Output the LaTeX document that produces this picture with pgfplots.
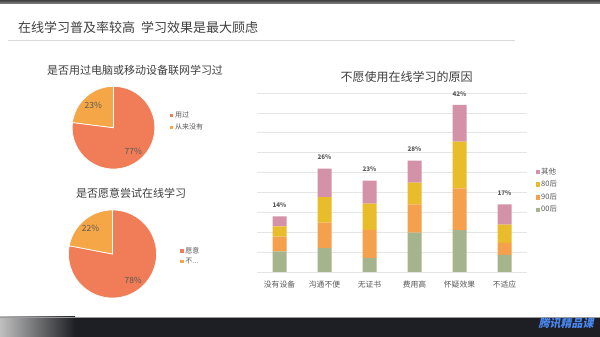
\documentclass[border=0pt]{standalone}
\usepackage{pgfplots}
\pgfplotsset{compat=1.18}
\usepackage{pgfplotstable}
\usepackage{fontspec}
\setmainfont{Noto Sans CJK SC}
\definecolor{coral}{HTML}{F07D57}
\definecolor{pieor}{HTML}{F5A646}
\definecolor{bpink}{HTML}{D492A8}
\definecolor{byel}{HTML}{E8BC2A}
\definecolor{bor}{HTML}{F5A04C}
\definecolor{bgreen}{HTML}{A6B48D}
\definecolor{txt}{HTML}{595959}
\definecolor{ttl}{HTML}{404040}
\definecolor{bardark}{HTML}{1E1F24}
\definecolor{logo}{HTML}{4A86F0}

\pgfplotstableread{
x g00 g90 g80 oth total
0 5.2 3.7 2.6 2.5 14
1 6.0 6.4 6.4 7.2 26
2 3.5 7.1 6.6 5.8 23
3 9.9 7.1 5.5 5.5 28
4 10.5 10.5 11.8 9.2 42
5 4.3 3.0 4.6 5.1 17
}\reasons

\pgfplotsset{sqleg/.style={legend image code/.code={\fill[##1] (0pt,-2.3pt) rectangle (4.6pt,2.3pt);}}}

\begin{document}
\begin{tikzpicture}[x=1pt,y=1pt]
\useasboundingbox (0,0) rectangle (600,337);
\fill[white] (0,0) rectangle (600,337);
% top strip
\shade[top color=black!75, bottom color=black!45] (0,333) rectangle (600,337);
% main title
\node[anchor=west, font=\fontsize{13}{13}\selectfont, text=ttl, inner sep=0pt] at (18,309.5) {在线学习普及率较高\hspace{0.45em}学习效果是最大顾虑};
\draw[black!15, line width=0.8pt] (8,297) -- (515,297);
% bottom strip
\fill[bardark] (0,0) rectangle (600,20);
\shade[left color=black!25, right color=bardark] (0,0) rectangle (75,20);
\draw[black!40, line width=0.6pt] (0,20) -- (600,20);
\node[font=\fontsize{11}{11}\selectfont\bfseries, text=logo, xslant=0.2, inner sep=0pt] at (567,14) {腾讯精品课};

% pie titles
\node[font=\fontsize{11}{11}\selectfont, text=ttl] at (135,267) {是否用过电脑或移动设备联网学习过};
\node[font=\fontsize{11}{11}\selectfont, text=ttl] at (131,143.7) {是否愿意尝试在线学习};
% bar title
\node[font=\fontsize{12}{12}\selectfont, text=ttl] at (406.7,260.3) {不愿使用在线学习的原因};

% ---------- pie 1 ----------
\pgfmathsetmacro\pa{90+3.6*23}
\begin{axis}[at={(113.5pt,209.3pt)}, anchor=center, scale only axis,
  width=82.6pt, height=82.6pt, xmin=-1, xmax=1, ymin=-1, ymax=1,
  hide axis, clip=false,
  legend style={at={(1.13,0.73)}, anchor=north west, draw=none, fill=none,
    font=\fontsize{7}{7}\selectfont, text=txt, row sep=2.8pt,
    nodes={inner sep=1pt, text height=5.5pt, text depth=1.5pt}},
  legend cell align=left]
\addplot[sqleg, fill=coral, draw=white, line width=0.7pt, domain=\pa:450, samples=90] ({cos(x)},{sin(x)}) -- (axis cs:0,0) -- cycle;
\addlegendentry{用过}
\addplot[sqleg, fill=pieor, draw=white, line width=0.7pt, domain=90:\pa, samples=40] ({cos(x)},{sin(x)}) -- (axis cs:0,0) -- cycle;
\addlegendentry{从来没有}
\node[font=\fontsize{8.5}{8.5}\selectfont, text=txt] at (axis cs:-0.49,0.53) {23\%};
\node[font=\fontsize{8.5}{8.5}\selectfont, text=txt] at (axis cs:0.48,-0.58) {77\%};
\end{axis}

% ---------- pie 2 ----------
\pgfmathsetmacro\pb{90+3.6*22}
\begin{axis}[at={(112.5pt,83pt)}, anchor=center, scale only axis,
  width=88pt, height=88pt, xmin=-1, xmax=1, ymin=-1, ymax=1,
  hide axis, clip=false,
  legend style={at={(1.22,0.61)}, anchor=north west, draw=none, fill=none,
    font=\fontsize{7}{7}\selectfont, text=txt, row sep=1.5pt,
    nodes={inner sep=1pt, text height=5.5pt, text depth=1.5pt}},
  legend cell align=left]
\addplot[sqleg, fill=coral, draw=white, line width=0.7pt, domain=\pb:450, samples=90] ({cos(x)},{sin(x)}) -- (axis cs:0,0) -- cycle;
\addlegendentry{愿意}
\addplot[sqleg, fill=pieor, draw=white, line width=0.7pt, domain=90:\pb, samples=40] ({cos(x)},{sin(x)}) -- (axis cs:0,0) -- cycle;
\addlegendentry{不...}
\node[font=\fontsize{8.5}{8.5}\selectfont, text=txt] at (axis cs:-0.50,0.58) {22\%};
\node[font=\fontsize{8.5}{8.5}\selectfont, text=txt] at (axis cs:0.47,-0.59) {78\%};
\end{axis}

% ---------- stacked bars ----------
\begin{axis}[at={(257pt,65pt)}, anchor=south west, scale only axis,
  width=270pt, height=179pt,
  ybar stacked, bar width=14pt,
  xmin=-0.5, xmax=5.5, ymin=0, ymax=45,
  xtick={0,1,2,3,4,5},
  xticklabels={没有设备,沟通不便,无证书,费用高,怀疑效果,不适应},
  xticklabel style={font=\fontsize{7.8}{7.8}\selectfont, text=txt, yshift=-5pt},
  ytick={0,5,...,45}, yticklabels={},
  ymajorgrids, grid style={black!10, line width=0.6pt},
  axis line style={draw=none}, major tick length=0pt,
  clip=false,
  legend style={at={(1.02,0.595)}, anchor=north west, draw=none, fill=none,
    font=\fontsize{7.5}{7.5}\selectfont, text=txt, row sep=3.6pt,
    nodes={inner sep=1pt, text height=5.5pt, text depth=1.5pt}},
  legend cell align=left, reverse legend]
\addplot[sqleg, fill=bgreen, draw=none] table[x=x, y=g00]{\reasons};
\addlegendentry{00后}
\addplot[sqleg, fill=bor, draw=none] table[x=x, y=g90]{\reasons};
\addlegendentry{90后}
\addplot[sqleg, fill=byel, draw=none] table[x=x, y=g80]{\reasons};
\addlegendentry{80后}
\addplot[sqleg, fill=bpink, draw=none] table[x=x, y=oth]{\reasons};
\addlegendentry{其他}
\end{axis}

% ---------- total labels (same geometry, not stacked) ----------
\begin{axis}[at={(257pt,65pt)}, anchor=south west, scale only axis,
  width=270pt, height=179pt,
  xmin=-0.5, xmax=5.5, ymin=0, ymax=45,
  hide axis, clip=false]
\addplot[draw=none, mark=none, point meta=explicit symbolic,
  nodes near coords={\pgfplotspointmeta\%},
  nodes near coords align={center},
  every node near coord/.append style={anchor=center, yshift=11pt, inner sep=0pt,
    font=\fontsize{6.3}{6.3}\selectfont\bfseries, text=txt}]
  table[x=x, y=total, meta=total]{\reasons};
\end{axis}
\end{tikzpicture}
\end{document}
